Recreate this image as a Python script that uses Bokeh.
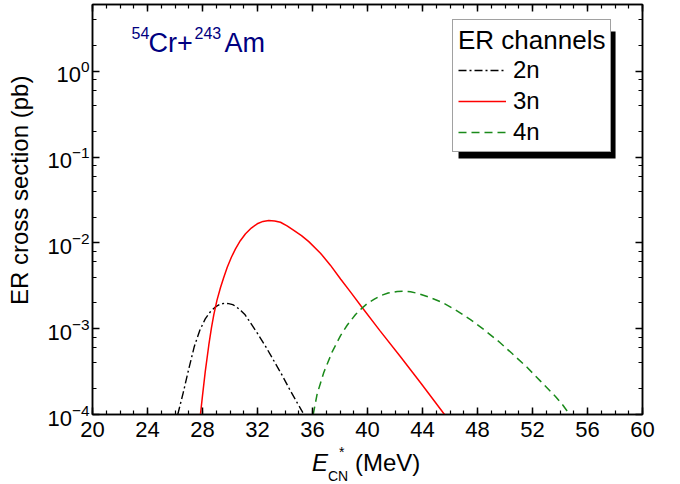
from bokeh.plotting import figure
from bokeh.layouts import column, row
from bokeh.models import (LinearAxis, LogAxis, FixedTicker, LogTicker, Legend,
                          LegendItem, BoxAnnotation, Label, Range1d, Div)
from bokeh.embed import file_html
from bokeh.resources import INLINE

FONT = "Liberation Sans"

# ---- data (E*_CN in MeV, cross section in pb) ----
e_2n = [26.2, 26.6, 27.0, 27.4, 27.8, 28.2, 28.6, 29.0, 29.3, 29.6, 29.9,
        30.2, 30.5, 30.8, 31.1, 31.4, 32.0, 32.6, 33.2, 33.8, 34.4, 34.9, 35.3]
s_2n = [1.0e-4, 1.8e-4, 3.39e-4, 6.17e-4, 9.55e-4, 1.30e-3, 1.60e-3, 1.82e-3,
        1.93e-3, 1.98e-3, 1.96e-3, 1.91e-3, 1.78e-3, 1.62e-3, 1.45e-3, 1.23e-3,
        8.8e-4, 6.17e-4, 4.2e-4, 2.85e-4, 1.88e-4, 1.36e-4, 1.05e-4]

e_3n = [27.85, 28.0, 28.2, 28.46, 28.65, 28.82, 29.05, 29.31, 29.55, 29.8,
        30.1, 30.4, 30.75, 31.13, 31.55, 31.98, 32.4, 32.82, 33.25, 33.67,
        34.15, 34.64, 35.2, 35.73, 36.58, 37.3, 38.04, 38.8, 39.5, 40.9,
        42.4, 43.9, 45.6]
s_3n = [1.0e-4, 1.66e-4, 3.16e-4, 6.46e-4, 1.02e-3, 1.45e-3, 2.14e-3, 3.02e-3,
        3.98e-3, 5.2e-3, 6.8e-3, 8.5e-3, 1.06e-2, 1.28e-2, 1.49e-2, 1.67e-2,
        1.78e-2, 1.82e-2, 1.80e-2, 1.74e-2, 1.58e-2, 1.40e-2, 1.216e-2,
        1.035e-2, 7.59e-3, 5.5e-3, 3.8e-3, 2.63e-3, 1.86e-3, 9.5e-4, 4.7e-4,
        2.3e-4, 1.0e-4]

e_4n = [36.05, 36.34, 36.82, 37.43, 38.04, 38.52, 39.13, 39.6, 40.0, 40.5,
        40.95, 41.5, 42.16, 42.7, 43.13, 43.7, 44.34, 45.0, 45.5, 46.4, 47.49,
        48.46, 49.55, 50.52, 51.6, 52.58, 53.67, 54.2, 54.7]
s_4n = [1.0e-4, 1.74e-4, 3.09e-4, 5.37e-4, 8.32e-4, 1.096e-3, 1.462e-3,
        1.738e-3, 1.972e-3, 2.213e-3, 2.427e-3, 2.60e-3, 2.716e-3, 2.735e-3,
        2.69e-3, 2.57e-3, 2.37e-3, 2.163e-3, 1.995e-3, 1.66e-3, 1.274e-3,
        9.77e-4, 7.08e-4, 5.13e-4, 3.55e-4, 2.45e-4, 1.62e-4, 1.29e-4, 1.0e-4]

x_ticks = [20, 24, 28, 32, 36, 40, 44, 48, 52, 56, 60]
x_minor = list(range(20, 61))
x_range = (20, 60)
y_range = (1e-4, 6.0)

channel_labels = ["2n", "3n", "4n"]
legend_title = "ER channels"
y_label = "ER cross section (pb)"

p = figure(frame_width=550, frame_height=410,
           x_range=Range1d(*x_range), y_range=Range1d(*y_range),
           y_axis_type="log", output_backend="svg", toolbar_location=None,
           min_border_left=52, min_border_top=4, min_border_right=30,
           min_border_bottom=30, background_fill_color="white",
           border_fill_color="white", margin=0)
p.xgrid.visible = False
p.ygrid.visible = False
p.outline_line_color = "black"
p.outline_line_width = 1.5

r2 = p.line(e_2n, s_2n, line_color="black", line_width=1.4, line_dash="8 3 2 3")
r3 = p.line(e_3n, s_3n, line_color="#ff0000", line_width=1.5)
r4 = p.line(e_4n, s_4n, line_color="#1a8a1a", line_width=1.5, line_dash="8 5")


def style_axis(ax, show_labels=True):
    ax.axis_line_width = 1.5
    ax.axis_line_color = "black"
    ax.major_tick_in = 7
    ax.major_tick_out = 0
    ax.minor_tick_in = 4
    ax.minor_tick_out = 0
    ax.major_tick_line_width = 1.5
    ax.minor_tick_line_width = 1.2
    ax.major_label_text_font = FONT
    if show_labels:
        ax.major_label_text_font_size = "22px"
        ax.major_label_text_color = "black"
    else:
        ax.major_label_text_font_size = "1px"
        ax.major_label_text_color = None
        ax.major_label_standoff = 0


xa = p.xaxis[0]
xa.ticker = FixedTicker(ticks=x_ticks, minor_ticks=x_minor)
style_axis(xa)
xa.major_label_standoff = 7

ya = p.yaxis[0]
ya.ticker = LogTicker()
style_axis(ya)
ya.major_label_standoff = 3

top = LinearAxis(ticker=FixedTicker(ticks=x_ticks, minor_ticks=x_minor))
style_axis(top, False)
p.add_layout(top, "above")

right = LogAxis(ticker=LogTicker())
style_axis(right, False)
p.add_layout(right, "right")

# shadow of the legend box
p.add_layout(BoxAnnotation(left=46.62, right=58.04, bottom=0.0963, top=2.91,
                           fill_color="black", fill_alpha=1.0, line_color=None))

legend = Legend(items=[LegendItem(label=channel_labels[0], renderers=[r2]),
                       LegendItem(label=channel_labels[1], renderers=[r3]),
                       LegendItem(label=channel_labels[2], renderers=[r4])],
                location=(360, 262), title=legend_title,
                title_text_font=FONT, title_text_font_size="26px",
                title_text_font_style="normal", title_text_color="black",
                title_standoff=0,
                label_text_font=FONT, label_text_font_size="24px",
                label_text_color="black",
                glyph_width=48, label_standoff=7, padding=5, spacing=3,
                margin=0, border_line_color="#444444", border_line_width=1,
                background_fill_color="white", background_fill_alpha=1.0)
p.add_layout(legend)

# reaction label 54Cr+243Am
title_parts = [("54", 22.836, 2.76, "16px"), ("Cr+", 24.073, 2.11, "27px"),
               ("243", 27.418, 2.76, "16px"), ("Am", 29.6, 2.11, "27px")]
for txt, xx, yy, fs in title_parts:
    p.add_layout(Label(x=xx, y=yy, text=txt, text_font=FONT, text_font_size=fs,
                       text_color="#000080", text_baseline="alphabetic",
                       text_align="left"))

# y axis label, rotated, in a strip left of the figure
ylabel_html = (
    '<div style="position:relative;width:40px;height:484px;'
    'font-family:\'Liberation Sans\';color:black;line-height:1;">'
    '<span style="position:absolute;left:8px;top:305px;font-size:24px;'
    'white-space:nowrap;transform:rotate(-90deg);transform-origin:left top;">'
    + y_label + '</span></div>')
ylabel = Div(text=ylabel_html, width=40, height=484, margin=0)

# x axis label E*_CN (MeV), drawn under the figure
xlabel_html = (
    '<div style="position:relative;width:632px;height:40px;'
    'font-family:\'Liberation Sans\';color:black;line-height:1;">'
    '<span style="position:absolute;left:272px;top:7px;font-size:24px;'
    'font-style:italic;">E</span>'
    '<span style="position:absolute;left:299px;top:1px;font-size:14px;">*</span>'
    '<span style="position:absolute;left:288px;top:25px;font-size:14px;">CN</span>'
    '<span style="position:absolute;left:315px;top:7px;font-size:24px;">(MeV)</span>'
    '</div>')
xlabel = Div(text=xlabel_html, width=632, height=40, margin=0)

layout = row(ylabel, column(p, xlabel, spacing=0, margin=0), spacing=0, margin=0)

open("out.html", "w").write(file_html(layout, INLINE))
